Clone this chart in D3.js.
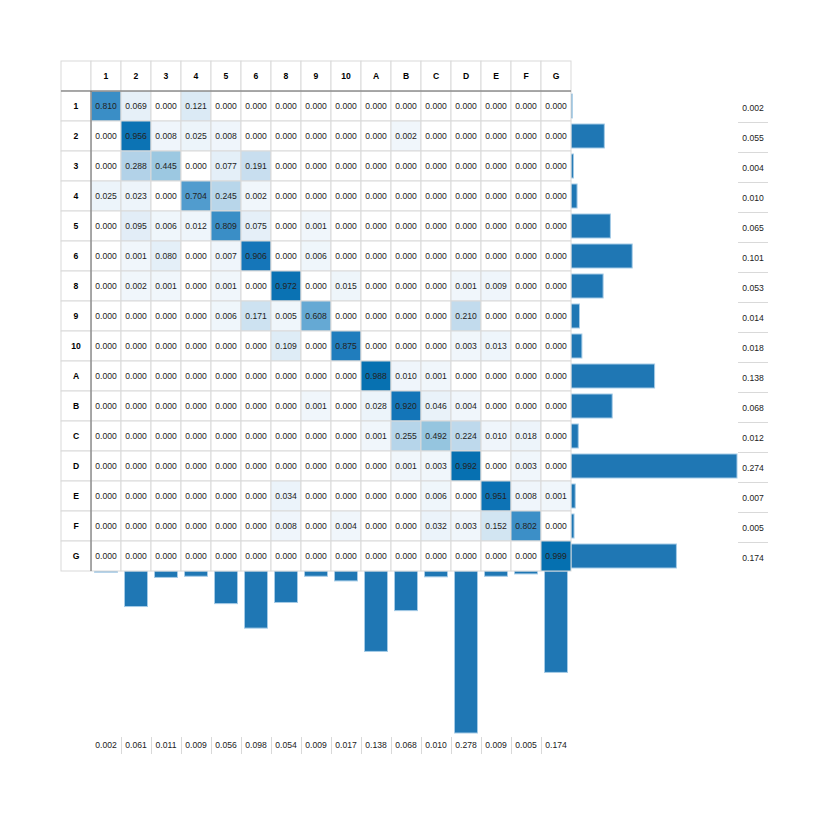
<!DOCTYPE html>
<html>
<head>
<meta charset="utf-8">
<script src="https://cdn.jsdelivr.net/npm/d3@7"></script>
<style>
  body { margin: 0; background: #fff; }
  svg { font-family: "Helvetica Neue", Helvetica, Arial, "Liberation Sans", sans-serif; }
</style>
</head>
<body>
<svg id="chart" width="830" height="816"></svg>
<script>
// labels for rows and columns (same order)
var labels = ["1","2","3","4","5","6","8","9","10","A","B","C","D","E","F","G"];

// confusion matrix, one array per row
var r1  = [0.810,0.069,0.000,0.121,0.000,0.000,0.000,0.000,0.000,0.000,0.000,0.000,0.000,0.000,0.000,0.000];
var r2  = [0.000,0.956,0.008,0.025,0.008,0.000,0.000,0.000,0.000,0.000,0.002,0.000,0.000,0.000,0.000,0.000];
var r3  = [0.000,0.288,0.445,0.000,0.077,0.191,0.000,0.000,0.000,0.000,0.000,0.000,0.000,0.000,0.000,0.000];
var r4  = [0.025,0.023,0.000,0.704,0.245,0.002,0.000,0.000,0.000,0.000,0.000,0.000,0.000,0.000,0.000,0.000];
var r5  = [0.000,0.095,0.006,0.012,0.809,0.075,0.000,0.001,0.000,0.000,0.000,0.000,0.000,0.000,0.000,0.000];
var r6  = [0.000,0.001,0.080,0.000,0.007,0.906,0.000,0.006,0.000,0.000,0.000,0.000,0.000,0.000,0.000,0.000];
var r8  = [0.000,0.002,0.001,0.000,0.001,0.000,0.972,0.000,0.015,0.000,0.000,0.000,0.001,0.009,0.000,0.000];
var r9  = [0.000,0.000,0.000,0.000,0.006,0.171,0.005,0.608,0.000,0.000,0.000,0.000,0.210,0.000,0.000,0.000];
var r10 = [0.000,0.000,0.000,0.000,0.000,0.000,0.109,0.000,0.875,0.000,0.000,0.000,0.003,0.013,0.000,0.000];
var rA  = [0.000,0.000,0.000,0.000,0.000,0.000,0.000,0.000,0.000,0.988,0.010,0.001,0.000,0.000,0.000,0.000];
var rB  = [0.000,0.000,0.000,0.000,0.000,0.000,0.000,0.001,0.000,0.028,0.920,0.046,0.004,0.000,0.000,0.000];
var rC  = [0.000,0.000,0.000,0.000,0.000,0.000,0.000,0.000,0.000,0.001,0.255,0.492,0.224,0.010,0.018,0.000];
var rD  = [0.000,0.000,0.000,0.000,0.000,0.000,0.000,0.000,0.000,0.000,0.001,0.003,0.992,0.000,0.003,0.000];
var rE  = [0.000,0.000,0.000,0.000,0.000,0.000,0.034,0.000,0.000,0.000,0.000,0.006,0.000,0.951,0.008,0.001];
var rF  = [0.000,0.000,0.000,0.000,0.000,0.000,0.008,0.000,0.004,0.000,0.000,0.032,0.003,0.152,0.802,0.000];
var rG  = [0.000,0.000,0.000,0.000,0.000,0.000,0.000,0.000,0.000,0.000,0.000,0.000,0.000,0.000,0.000,0.999];
var matrix = [r1,r2,r3,r4,r5,r6,r8,r9,r10,rA,rB,rC,rD,rE,rF,rG];

// marginal totals (right = per row, bottom = per column)
var rowTotals = [0.002,0.055,0.004,0.010,0.065,0.101,0.053,0.014,0.018,0.138,0.068,0.012,0.274,0.007,0.005,0.174];
var colTotals = [0.002,0.061,0.011,0.009,0.056,0.098,0.054,0.009,0.017,0.138,0.068,0.010,0.278,0.009,0.005,0.174];

var svg = d3.select("#chart");
var x0 = 61, y0 = 61, hdr = 30, cell = 30;
var n = labels.length;

var x = d3.scaleBand().domain(labels).range([x0 + hdr, x0 + hdr + n * cell]);
var y = d3.scaleBand().domain(labels).range([y0 + hdr, y0 + hdr + n * cell]);
var tableRight = x.range()[1], tableBottom = y.range()[1];

var color = d3.scaleLinear()
  .domain([0.001, 0.1, 0.25, 0.5, 0.6, 0.81, 0.9, 1])
  .range(["#f0f6fb","#e1edf7","#b7d5ea","#94c4df","#67aad5","#3a8ec6","#1676ba","#0570b0"])
  .clamp(true);
function fill(v) { return v > 0 ? color(v) : "#ffffff"; }

var fmt = d3.format(".3f");

// marginal bars
var xBar = d3.scaleLinear().domain([0, d3.max(rowTotals)]).range([0, 166]);
var yBar = d3.scaleLinear().domain([0, d3.max(colTotals)]).range([0, 162]);

svg.append("g").selectAll("rect")
  .data(rowTotals)
  .join("rect")
  .attr("x", tableRight)
  .attr("y", function(d, i) { return y(labels[i]) + 3; })
  .attr("width", function(d) { return Math.max(xBar(d), 1); })
  .attr("height", y.bandwidth() - 6)
  .attr("fill", "#1f77b4")
  .attr("stroke", "#a5cbe6")
  .attr("stroke-width", 1);

svg.append("g").selectAll("rect")
  .data(colTotals)
  .join("rect")
  .attr("x", function(d, i) { return x(labels[i]) + 3.5; })
  .attr("y", tableBottom)
  .attr("width", x.bandwidth() - 7)
  .attr("height", function(d) { return Math.max(yBar(d), 1); })
  .attr("fill", "#1f77b4")
  .attr("stroke", "#a5cbe6")
  .attr("stroke-width", 1);

// table cells
var rowsG = svg.append("g").selectAll("g")
  .data(matrix)
  .join("g")
  .attr("transform", function(d, i) { return "translate(0," + y(labels[i]) + ")"; });

var cells = rowsG.selectAll("g")
  .data(function(d) { return d; })
  .join("g")
  .attr("transform", function(d, j) { return "translate(" + x(labels[j]) + ",0)"; });

cells.append("rect")
  .attr("width", cell).attr("height", cell)
  .attr("fill", fill)
  .attr("stroke", "#d9d9d9").attr("stroke-width", 1);

cells.append("text")
  .attr("x", cell / 2).attr("y", cell / 2)
  .attr("dy", "0.35em")
  .attr("text-anchor", "middle")
  .attr("font-size", "8.6px")
  .attr("fill", "#222")
  .text(fmt);

// header cells
svg.append("rect")
  .attr("x", x0).attr("y", y0).attr("width", hdr).attr("height", hdr)
  .attr("fill", "#fff").attr("stroke", "#d9d9d9");

var colHdr = svg.append("g").selectAll("g").data(labels).join("g")
  .attr("transform", function(d) { return "translate(" + x(d) + "," + y0 + ")"; });
colHdr.append("rect").attr("width", cell).attr("height", hdr)
  .attr("fill", "#fff").attr("stroke", "#d9d9d9");
colHdr.append("text")
  .attr("x", cell / 2).attr("y", hdr / 2).attr("dy", "0.35em")
  .attr("text-anchor", "middle").attr("font-size", "8.6px").attr("font-weight", "bold")
  .text(function(d) { return d; });

var rowHdr = svg.append("g").selectAll("g").data(labels).join("g")
  .attr("transform", function(d) { return "translate(" + x0 + "," + y(d) + ")"; });
rowHdr.append("rect").attr("width", hdr).attr("height", cell)
  .attr("fill", "#fff").attr("stroke", "#d9d9d9");
rowHdr.append("text")
  .attr("x", hdr / 2).attr("y", cell / 2).attr("dy", "0.35em")
  .attr("text-anchor", "middle").attr("font-size", "8.6px").attr("font-weight", "bold")
  .text(function(d) { return d; });

// darker lines under header row / right of header column
svg.append("line")
  .attr("x1", x0).attr("x2", tableRight)
  .attr("y1", y0 + hdr).attr("y2", y0 + hdr)
  .attr("stroke", "#666").attr("stroke-width", 1);
svg.append("line")
  .attr("x1", x0 + hdr).attr("x2", x0 + hdr)
  .attr("y1", y0 + hdr).attr("y2", tableBottom)
  .attr("stroke", "#666").attr("stroke-width", 1);

// right marginal labels
var rl = svg.append("g").selectAll("g").data(rowTotals).join("g")
  .attr("transform", function(d, i) { return "translate(738," + y(labels[i]) + ")"; });
rl.append("text")
  .attr("x", 15).attr("y", cell / 2 + 2).attr("dy", "0.35em")
  .attr("text-anchor", "middle").attr("font-size", "8.6px").attr("fill", "#222")
  .text(fmt);
rl.filter(function(d, i) { return i < n - 1; }).append("line")
  .attr("x1", 0).attr("x2", 30).attr("y1", cell + 1.5).attr("y2", cell + 1.5)
  .attr("stroke", "#d9d9d9");

// bottom marginal labels
var bl = svg.append("g").selectAll("g").data(colTotals).join("g")
  .attr("transform", function(d, i) { return "translate(" + x(labels[i]) + ",737)"; });
bl.append("text")
  .attr("x", cell / 2).attr("y", 8).attr("dy", "0.35em")
  .attr("text-anchor", "middle").attr("font-size", "8.6px").attr("fill", "#222")
  .text(fmt);
bl.filter(function(d, i) { return i > 0; }).append("line")
  .attr("x1", 0.5).attr("x2", 0.5).attr("y1", 0).attr("y2", 17)
  .attr("stroke", "#d9d9d9");
</script>
</body>
</html>
